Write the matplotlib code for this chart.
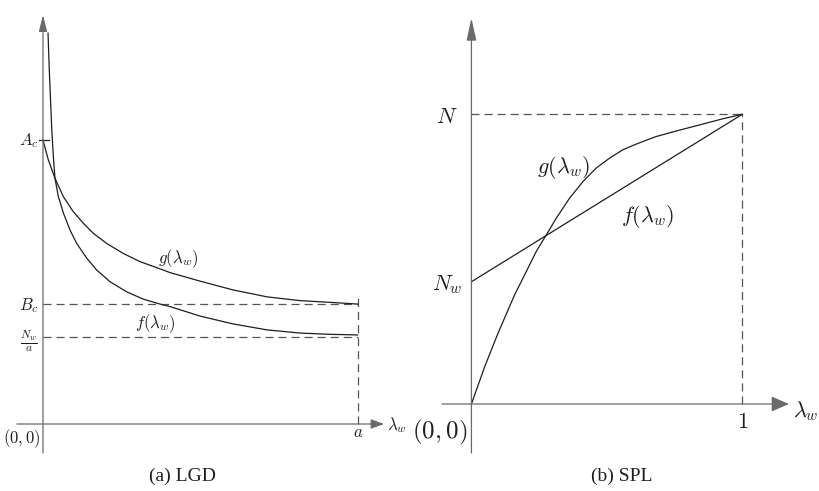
import matplotlib
matplotlib.use("Agg")
import matplotlib.pyplot as plt

# ===============================
# GENERAL SETTINGS
# ===============================
plt.rcParams['mathtext.fontset'] = 'cm'
plt.rcParams['lines.scale_dashes'] = False

INK = '#1e1e1e'
AXIS = '#6a6a6a'
DASH = '#555555'
DASHES = (5.8, 3.6)

# ===============================
# DATA
# ===============================
# (a) LGD, x in units of a
lgd_a = 1.0
lgd_Ac = 0.902
lgd_Bc = 0.381
lgd_Nw_a = 0.276

lgd_g_x = [0.0, 0.017, 0.038, 0.065, 0.096, 0.128, 0.160, 0.202, 0.255,
           0.308, 0.361, 0.404, 0.499, 0.604, 0.712, 0.817, 0.922, 1.0]
lgd_g_y = [0.902, 0.839, 0.781, 0.722, 0.675, 0.638, 0.606, 0.574, 0.542,
           0.516, 0.497, 0.481, 0.454, 0.426, 0.404, 0.392, 0.386, 0.381]

lgd_f_x = [0.016, 0.020, 0.024, 0.028, 0.033, 0.038, 0.049, 0.065, 0.086,
           0.107, 0.139, 0.171, 0.213, 0.266, 0.318, 0.372, 0.404, 0.499,
           0.604, 0.712, 0.817, 0.910, 1.0]
lgd_f_y = [1.242, 1.125, 1.030, 0.934, 0.849, 0.781, 0.722, 0.670, 0.616,
           0.574, 0.527, 0.489, 0.452, 0.420, 0.397, 0.381, 0.373, 0.343,
           0.318, 0.299, 0.289, 0.285, 0.283]

# (b) SPL, y in units of N
spl_N = 1.0
spl_Nw = 0.422

spl_g_x = [0.0, 0.049, 0.098, 0.159, 0.196, 0.239, 0.276, 0.313, 0.362,
           0.411, 0.460, 0.509, 0.558, 0.608, 0.681, 0.755, 0.853, 0.926, 1.0]
spl_g_y = [0.0, 0.129, 0.244, 0.376, 0.445, 0.526, 0.583, 0.641, 0.710,
           0.767, 0.814, 0.848, 0.877, 0.897, 0.923, 0.942, 0.966, 0.984, 1.0]

spl_f_x = [0.0, 1.0]
spl_f_y = [spl_Nw, spl_N]


def axis_arrow(ax, start, tip, head_len, head_half):
    ax.annotate('', xy=tip, xytext=start,
                arrowprops=dict(arrowstyle=f'-|>,head_length={head_len},head_width={head_half}',
                                color=AXIS, lw=0.9, shrinkA=0, shrinkB=0,
                                mutation_scale=1))


fig = plt.figure(figsize=(8.19, 4.91), dpi=100)

# ===============================
# (a) LGD
# ===============================
ax1 = fig.add_axes([0, 0, 410 / 819, 1])
ax1.set_xlim(-0.1366, 1.1662)
ax1.set_ylim(-0.2129, 1.3473)
ax1.axis('off')

axis_arrow(ax1, (-0.083, 0), (1.084, 0), 8, 2.9)
axis_arrow(ax1, (0, -0.092), (0, 1.300), 10, 2.5)

ax1.plot([0, lgd_a], [lgd_Bc, lgd_Bc], color=DASH, lw=0.9, dashes=DASHES)
ax1.plot([0, lgd_a], [lgd_Nw_a, lgd_Nw_a], color=DASH, lw=0.9, dashes=DASHES)
ax1.plot([lgd_a, lgd_a], [0, 0.404], color=DASH, lw=0.9, dashes=DASHES)
ax1.plot([-0.013, 0.019], [lgd_Ac, lgd_Ac], color=INK, lw=0.9)

ax1.plot(lgd_g_x, lgd_g_y, color=INK, lw=0.9)
ax1.plot(lgd_f_x, lgd_f_y, color=INK, lw=0.9)

fs1 = 12
ax1.text(-0.013, 0.887, r'$A_c$', fontsize=fs1, ha='right', va='baseline', color=INK)
ax1.text(-0.013, 0.362, r'$B_c$', fontsize=fs1, ha='right', va='baseline', color=INK)
ax1.text(-0.016, 0.262, r'$\frac{N_w}{a}$', fontsize=fs1, ha='right', va='center', color=INK)
ax1.text(-0.009, -0.060, r'$(0,0)$', fontsize=fs1, ha='right', va='baseline', color=INK)
ax1.text(lgd_a, -0.041, r'$a$', fontsize=fs1, ha='center', va='baseline', color=INK)
ax1.text(1.093, -0.019, r'$\lambda_w$', fontsize=fs1, ha='left', va='baseline', color=INK)
ax1.text(0.365, 0.512, r'$g(\lambda_w)$', fontsize=fs1, ha='left', va='baseline', color=INK)
ax1.text(0.292, 0.305, r'$f(\lambda_w)$', fontsize=fs1, ha='left', va='baseline', color=INK)

# ===============================
# (b) SPL
# ===============================
ax2 = fig.add_axes([410 / 819, 0, 409 / 819, 1])
ax2.set_xlim(-0.2268, 1.2832)
ax2.set_ylim(-0.3003, 1.3945)
ax2.axis('off')

axis_arrow(ax2, (-0.109, 0), (1.172, 0), 10.8, 4.7)
axis_arrow(ax2, (0, -0.169), (0, 1.332), 13.7, 3.0)

ax2.plot([0, 1], [spl_N, spl_N], color=DASH, lw=0.9, dashes=DASHES)
ax2.plot([1, 1], [0, spl_N], color=DASH, lw=0.9, dashes=DASHES)

ax2.plot(spl_f_x, spl_f_y, color=INK, lw=0.9)
ax2.plot(spl_g_x, spl_g_y, color=INK, lw=0.9)

fs2 = 16
ax2.text(-0.050, 0.970, r'$N$', fontsize=fs2, ha='right', va='baseline', color=INK)
ax2.text(-0.032, 0.394, r'$N_w$', fontsize=fs2, ha='right', va='baseline', color=INK)
ax2.text(-0.017, -0.120, r'$(0,0)$', fontsize=18, ha='right', va='baseline', color=INK)
ax2.text(1.0, -0.083, r'$1$', fontsize=fs2, ha='center', va='baseline', color=INK)
ax2.text(1.188, -0.045, r'$\lambda_w$', fontsize=fs2, ha='left', va='baseline', color=INK)
ax2.text(0.241, 0.797, r'$g(\lambda_w)$', fontsize=fs2, ha='left', va='baseline', color=INK)
ax2.text(0.554, 0.628, r'$f(\lambda_w)$', fontsize=fs2, ha='left', va='baseline', color=INK)

# ===============================
# CAPTIONS
# ===============================
fig.text(182 / 819, 1 - 476 / 491, '(a) LGD', fontsize=14, family='Liberation Serif',
         ha='center', va='center', color=INK)
fig.text(622 / 819, 1 - 476 / 491, '(b) SPL', fontsize=14, family='Liberation Serif',
         ha='center', va='center', color=INK)

fig.savefig('out.png', dpi=100)
